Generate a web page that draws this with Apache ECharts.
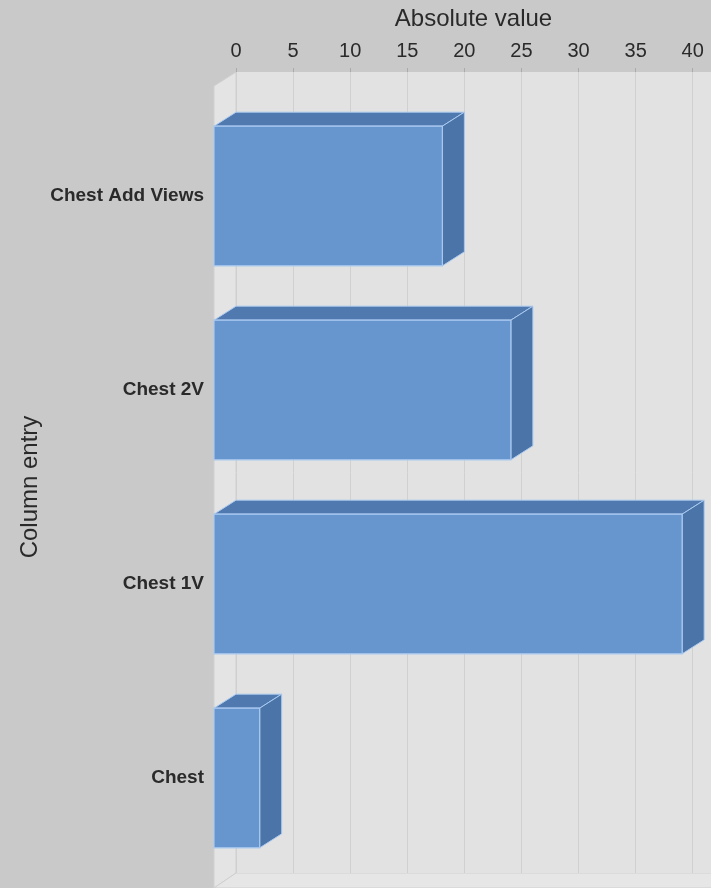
<!DOCTYPE html>
<html>
<head>
<meta charset="utf-8">
<script src="https://cdn.jsdelivr.net/npm/echarts@6/dist/echarts.min.js"></script>
<style>
html,body{margin:0;padding:0;background:#c9c9c9;overflow:hidden;}
#chart{width:711px;height:888px;}
</style>
</head>
<body>
<div id="chart"></div>
<script>
const categories = ['Chest Add Views', 'Chest 2V', 'Chest 1V', 'Chest'];
const values = [20, 26, 41, 4];
const xTicks = { min: 0, max: 41.6, interval: 5 };
const xTitle = 'Absolute value';
const yTitle = 'Column entry';

const DX = 22, DY = 14;           // 3D depth offset
const BACK_LEFT = 236;
const FONT = 'Liberation Sans, Arial, sans-serif';

const chart = echarts.init(document.getElementById('chart'));

function renderBar(params, api) {
  const cat = api.value(0);
  const val = api.value(1);
  const p0 = api.coord([0, cat]);
  const p1 = api.coord([val, cat]);
  const band = api.size([0, 1])[1];
  const h = band * 0.72;
  const x0 = p0[0], x1 = p1[0];
  const yT = p0[1] - h / 2, yB = p0[1] + h / 2;
  const edge = '#a9c9f0';
  return {
    type: 'group',
    children: [
      { type: 'polygon', shape: { points: [[x0, yT], [x1, yT], [x1 + DX, yT - DY], [x0 + DX, yT - DY]] },
        style: { fill: '#5079b0', stroke: edge, lineWidth: 1 } },
      { type: 'polygon', shape: { points: [[x1, yT], [x1 + DX, yT - DY], [x1 + DX, yB - DY], [x1, yB]] },
        style: { fill: '#4b74a8', stroke: edge, lineWidth: 1 } },
      { type: 'rect', shape: { x: x0, y: yT, width: x1 - x0, height: h },
        style: { fill: '#6796cf', stroke: edge, lineWidth: 1.2 } }
    ]
  };
}

const option = {
  backgroundColor: '#c9c9c9',
  animation: false,
  graphic: [
    { type: 'polygon', z: -1, shape: { points: [[BACK_LEFT - DX, 86], [BACK_LEFT, 72], [BACK_LEFT, 873], [BACK_LEFT - DX, 888]] },
      style: { fill: '#e4e4e4', stroke: '#d0d0d0', lineWidth: 1 } },
    { type: 'polygon', z: -1, shape: { points: [[BACK_LEFT, 873], [720, 873], [720, 888], [BACK_LEFT - DX, 888]] },
      style: { fill: '#e6e6e6', stroke: '#cfcfcf', lineWidth: 1 } }
  ],
  grid: [
    { left: BACK_LEFT, top: 72, right: 0, height: 801, show: true, backgroundColor: '#e2e2e2', borderWidth: 0,
      outerBoundsMode: 'none', containLabel: false },
    { left: BACK_LEFT - DX, top: 99, right: DX, height: 776, outerBoundsMode: 'none', containLabel: false }
  ],
  xAxis: [
    {
      gridIndex: 0, type: 'value', position: 'top', min: xTicks.min, max: xTicks.max, interval: xTicks.interval,
      name: xTitle, nameLocation: 'middle', nameGap: 41,
      nameTextStyle: { color: '#2a2a2a', fontSize: 24, fontFamily: FONT },
      axisLine: { show: false },
      axisTick: { show: true, length: 4, lineStyle: { color: '#aaa' } },
      axisLabel: { color: '#2a2a2a', fontSize: 20, margin: 11, fontFamily: FONT, showMaxLabel: false,
        formatter: v => (v % 5 === 0 ? String(v) : '') },
      splitLine: { show: true, lineStyle: { color: '#d0d0d0', width: 1 } }
    },
    { gridIndex: 1, type: 'value', min: xTicks.min, max: xTicks.max, show: false, splitLine: { show: false } }
  ],
  yAxis: [
    { gridIndex: 0, type: 'category', data: categories, show: false },
    {
      gridIndex: 1, type: 'category', data: categories, inverse: true,
      name: yTitle, nameLocation: 'middle', nameGap: 172, nameRotate: 90, nameMoveOverlap: false,
      nameTextStyle: { color: '#2a2a2a', fontSize: 24, fontFamily: FONT },
      axisLine: { show: false }, axisTick: { show: false },
      axisLabel: { color: '#2a2a2a', fontSize: 19, fontWeight: 'bold', margin: 10, fontFamily: FONT }
    }
  ],
  series: [{
    type: 'custom',
    xAxisIndex: 1, yAxisIndex: 1,
    renderItem: renderBar,
    encode: { x: 1, y: 0 },
    data: categories.map((c, i) => [i, values[i]]),
    clip: false
  }]
};
chart.setOption(option);
</script>
</body>
</html>
